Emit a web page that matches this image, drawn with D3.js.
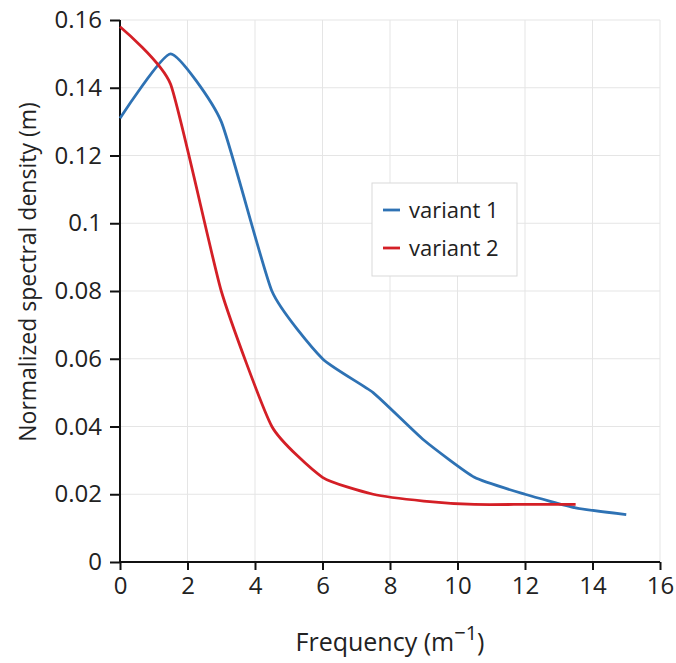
<!DOCTYPE html>
<html>
<head>
<meta charset="utf-8">
<script src="https://cdn.jsdelivr.net/npm/d3@7"></script>
<style>
  body { margin: 0; background: #fff; }
  svg text { font-family: "Open Sans", sans-serif; fill: #222; }
</style>
</head>
<body>
<div id="chart"></div>
<script>
// data
const freq = [0, 1.5, 3, 4.5, 6, 7.5, 9, 10.5, 12, 13.5, 15];
const variant1 = [0.131, 0.150, 0.130, 0.080, 0.060, 0.050, 0.036, 0.025, 0.020, 0.016, 0.014];
const variant2 = [0.158, 0.141, 0.080, 0.040, 0.025, 0.020, 0.018, 0.017, 0.017, 0.017];
const xTicks = [0, 2, 4, 6, 8, 10, 12, 14, 16];
const yTicks = [0, 0.02, 0.04, 0.06, 0.08, 0.1, 0.12, 0.14, 0.16];
const seriesNames = ["variant 1", "variant 2"];
const seriesColors = ["#2e72b4", "#d41f26"];

const W = 676, H = 663;
const m = {left: 120, right: 16, top: 20, bottom: 101};

const svg = d3.select("#chart").append("svg").attr("width", W).attr("height", H);

const x = d3.scaleLinear().domain([0, 16]).range([m.left, W - m.right]);
const y = d3.scaleLinear().domain([0, 0.16]).range([H - m.bottom, m.top]);

// grid
svg.append("g").selectAll("line").data(xTicks.slice(1)).join("line")
  .attr("x1", d => x(d)).attr("x2", d => x(d))
  .attr("y1", y(0)).attr("y2", y(0.16))
  .attr("stroke", "#e5e5e5").attr("stroke-width", 1);
svg.append("g").selectAll("line").data(yTicks.slice(1)).join("line")
  .attr("x1", x(0)).attr("x2", x(16))
  .attr("y1", d => y(d)).attr("y2", d => y(d))
  .attr("stroke", "#e5e5e5").attr("stroke-width", 1);

// axes
const xAxis = svg.append("g").attr("transform", `translate(0,${y(0)})`)
  .call(d3.axisBottom(x).tickValues(xTicks).tickSize(8).tickPadding(7).tickFormat(d3.format("d")));
const yAxis = svg.append("g").attr("transform", `translate(${x(0)},0)`)
  .call(d3.axisLeft(y).tickValues(yTicks).tickSize(10).tickPadding(8).tickFormat(d => d === 0 ? "0" : String(+d.toFixed(2))));
[xAxis, yAxis].forEach(g => {
  g.select(".domain").attr("stroke", "#111").attr("stroke-width", 2);
  g.selectAll(".tick line").attr("stroke", "#111").attr("stroke-width", 2);
  g.selectAll(".tick text").style("font-family", "'Open Sans', sans-serif").style("font-size", "24px").attr("fill", "#222");
});
xAxis.select(".domain").attr("d", `M${x(0)},0H${x(16)}`);
yAxis.select(".domain").attr("d", `M0,${y(0)}V${y(0.16)}`);

// lines
const line = d3.line().x(d => x(d[0])).y(d => y(d[1])).curve(d3.curveCardinal.tension(0.5));
const series = [variant1, variant2].map(v => v.map((val, i) => [freq[i], val]));
svg.append("g").selectAll("path").data(series).join("path")
  .attr("d", line)
  .attr("fill", "none")
  .attr("stroke", (d, i) => seriesColors[i])
  .attr("stroke-width", 2.8)
  .attr("stroke-linejoin", "round");

// legend
const lg = svg.append("g").attr("transform", "translate(372,183)");
lg.append("rect").attr("width", 145).attr("height", 93)
  .attr("fill", "#fff").attr("stroke", "#d9d9d9");
seriesNames.forEach((name, i) => {
  const yy = 27 + i * 38;
  lg.append("line").attr("x1", 11).attr("x2", 28).attr("y1", yy).attr("y2", yy)
    .attr("stroke", seriesColors[i]).attr("stroke-width", 2.8);
  lg.append("text").attr("x", 37).attr("y", yy + 8).style("font-size", "22px").text(name);
});

// axis titles
const xt = svg.append("text").attr("x", (x(0) + x(16)) / 2).attr("y", 651)
  .attr("text-anchor", "middle").style("font-size", "25px");
xt.append("tspan").text("Frequency (m");
xt.append("tspan").attr("dy", -11).style("font-size", "20px").text("\u22121");
xt.append("tspan").attr("dy", 11).text(")");

svg.append("text")
  .attr("transform", "translate(36,272) rotate(-90)")
  .attr("text-anchor", "middle").style("font-size", "23px")
  .text("Normalized spectral density (m)");
</script>
</body>
</html>
